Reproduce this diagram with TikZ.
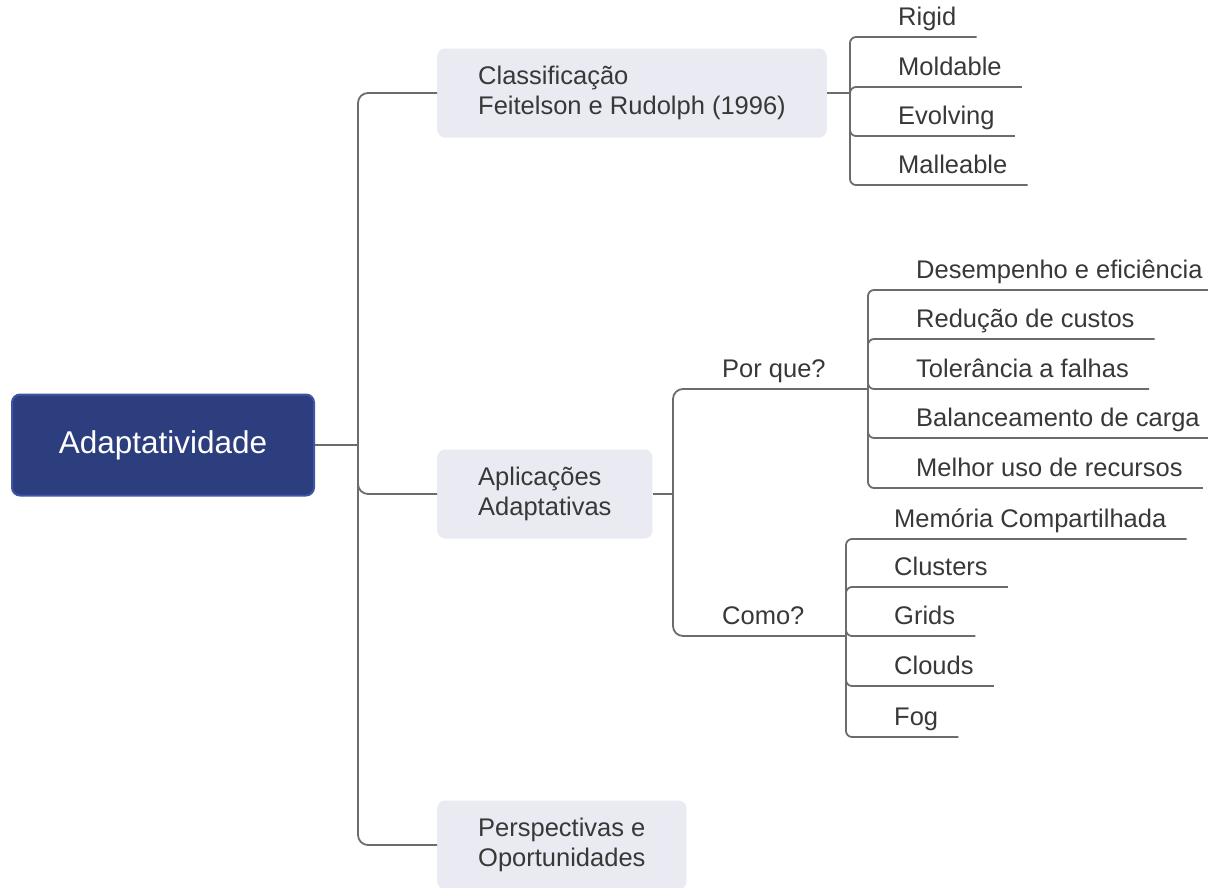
\documentclass[tikz,border=0pt]{standalone}
\usepackage{fontspec}
\setmainfont{Liberation Sans}
\usepackage{tikz}
\usetikzlibrary{positioning}
\definecolor{rootblue}{RGB}{45,62,126}
\definecolor{rootedge}{RGB}{62,84,166}
\definecolor{boxgray}{RGB}{233,234,242}
\definecolor{txtgray}{RGB}{56,56,56}
\definecolor{linegray}{RGB}{108,108,108}
\tikzset{
	rootnode/.style={draw=rootedge, fill=rootblue, line width=2pt, rounded corners=8pt,
		minimum width=302pt, minimum height=101pt, text=white, font=\fontsize{31.5}{36}\selectfont},
	topic/.style={fill=boxgray, rounded corners=8pt, anchor=west, align=left, inner xsep=41pt,
		minimum height=89pt, text=txtgray, font=\fontsize{25.5}{30}\selectfont},
	leaf/.style={anchor=south west, inner xsep=20pt, inner ysep=11pt, text depth=0pt,
		text=txtgray, font=\fontsize{25.5}{30}\selectfont},
	branch/.style={draw=linegray, line width=1.8pt, rounded corners=#1},
	branch/.default=6pt,
}

\begin{document}
\begin{tikzpicture}[x=1pt, y=-1pt]
	\useasboundingbox (0,0) rectangle (1208,887);
	
	% Root and the three topics
	\node[rootnode] (root) at (163,445) {Adaptatividade};
	\node[topic] (cls) at (437,93) {Classificação\\Feitelson e Rudolph (1996)};
	\node[topic] (app) at (437,494) {Aplicações\\Adaptativas};
	\node[topic] (persp) at (437,845) {Perspectivas e\\Oportunidades};
	
	% Forks
	\coordinate (trunk) at (358,445);
	\coordinate (clsfork) at (850,93);
	\coordinate (appfork) at (673,494);
	\coordinate (pqfork) at (868,389);
	\coordinate (comofork) at (846,636);
	
	% Main branches
	\draw[branch] (root.east) -- (trunk);
	\draw[branch=10pt] (trunk) |- (cls.west);
	\draw[branch=10pt] (trunk) |- (app.west);
	\draw[branch=10pt] (trunk) |- (persp.west);
	\draw[branch] (cls.east) -- (clsfork);
	\draw[branch] (app.east) -- (appfork);
	
	% Classification leaves
	\node[leaf] (rigid) at (878,37) {Rigid};
	\node[leaf] (moldable) at (878,87) {Moldable};
	\node[leaf] (evolving) at (878,136) {Evolving};
	\node[leaf] (malleable) at (878,185) {Malleable};
	\draw[branch] (clsfork) |- (rigid.south east);
	\draw[branch] (clsfork) |- (moldable.south east);
	\draw[branch] (clsfork) |- (evolving.south east);
	\draw[branch] (clsfork) |- (malleable.south east);
	
	% Por que? / Como?
	\node[leaf] (porque) at (702,389) {Por que?};
	\node[leaf] (como) at (702,636) {Como?};
	\draw[branch=10pt] (appfork) |- (pqfork);
	\draw[branch=10pt] (appfork) |- (comofork);
	
	\node[leaf] (desemp) at (896,290) {Desempenho e eficiência};
	\node[leaf] (custos) at (896,339) {Redução de custos};
	\node[leaf] (falhas) at (896,389) {Tolerância a falhas};
	\node[leaf] (carga) at (896,438) {Balanceamento de carga};
	\node[leaf] (recursos) at (896,488) {Melhor uso de recursos};
	\draw[branch] (pqfork) |- (desemp.south east);
	\draw[branch] (pqfork) |- (custos.south east);
	\draw[branch] (pqfork) |- (falhas.south east);
	\draw[branch] (pqfork) |- (carga.south east);
	\draw[branch] (pqfork) |- (recursos.south east);
	
	\node[leaf] (memoria) at (874,539) {Memória Compartilhada};
	\node[leaf] (clusters) at (874,587) {Clusters};
	\node[leaf] (grids) at (874,636) {Grids};
	\node[leaf] (clouds) at (874,686) {Clouds};
	\node[leaf] (fog) at (874,737) {Fog};
	\draw[branch] (comofork) |- (memoria.south east);
	\draw[branch] (comofork) |- (clusters.south east);
	\draw[branch] (comofork) |- (grids.south east);
	\draw[branch] (comofork) |- (clouds.south east);
	\draw[branch] (comofork) |- (fog.south east);
\end{tikzpicture}
\end{document}
